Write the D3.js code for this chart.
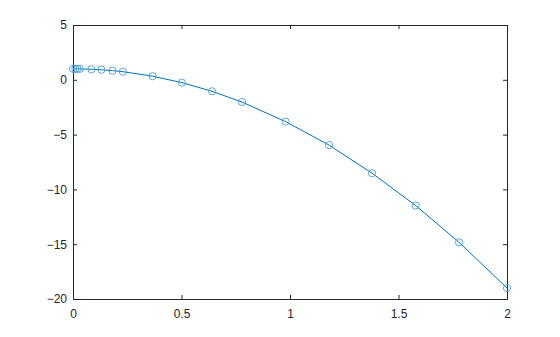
<!DOCTYPE html>
<html><head><meta charset="utf-8">
<script src="https://cdn.jsdelivr.net/npm/d3@7"></script>
<style>body{margin:0;background:#fff}svg{display:block}text{font-family:"Liberation Sans",Arial,Helvetica,sans-serif;font-size:12px;fill:#262626}</style>
</head><body>
<script>
const xValues = [0, 0.011, 0.020, 0.031, 0.085, 0.131, 0.182, 0.230, 0.367, 0.502, 0.641, 0.779, 0.980, 1.180, 1.378, 1.579, 1.779, 2.0];
const yValues = [1.0, 1.0, 1.0, 0.995, 0.96, 0.915, 0.835, 0.74, 0.33, -0.26, -1.05, -2.03, -3.82, -5.96, -8.52, -11.47, -14.83, -19.0];
const xTicks = [0, 0.5, 1, 1.5, 2];
const yTicks = [5, 0, -5, -10, -15, -20];

const W = 560, H = 337;
const m = {left: 73, right: 53, top: 25, bottom: 38};
const svg = d3.select("body").append("svg").attr("width", W).attr("height", H);
const x = d3.scaleLinear().domain([0, 2]).range([m.left, W - m.right]);
const y = d3.scaleLinear().domain([-20, 5]).range([H - m.bottom, m.top]);
const axisColor = "#262626";
const tl = 4;

function style(g){
  g.select(".domain").attr("stroke", axisColor).attr("stroke-width", 1);
  g.selectAll(".tick line").attr("stroke", axisColor);
  g.selectAll(".tick text").attr("fill", axisColor).style("font-size", "12px")
    .style("font-family", '"Liberation Sans",Arial,sans-serif');
}
svg.append("g").attr("transform", `translate(0,${H - m.bottom})`)
  .call(d3.axisBottom(x).tickValues(xTicks).tickSizeInner(-tl).tickSizeOuter(0).tickPadding(10).tickFormat(d3.format("")))
  .call(style);
svg.append("g").attr("transform", `translate(0,${m.top})`)
  .call(d3.axisTop(x).tickValues(xTicks).tickSizeInner(-tl).tickSizeOuter(0).tickFormat(""))
  .call(style);
svg.append("g").attr("transform", `translate(${m.left},0)`)
  .call(d3.axisLeft(y).tickValues(yTicks).tickSizeInner(-tl).tickSizeOuter(0).tickPadding(6).tickFormat(d3.format("")))
  .call(style);
svg.append("g").attr("transform", `translate(${W - m.right},0)`)
  .call(d3.axisRight(y).tickValues(yTicks).tickSizeInner(-tl).tickSizeOuter(0).tickFormat(""))
  .call(style);

const data = xValues.map((v, i) => [v, yValues[i]]);
svg.append("path").datum(data)
  .attr("fill", "none").attr("stroke", "#0072BD").attr("stroke-width", 1)
  .attr("d", d3.line().x(d => x(d[0])).y(d => y(d[1])));
svg.append("g").selectAll("circle").data(data).join("circle")
  .attr("cx", d => x(d[0])).attr("cy", d => y(d[1])).attr("r", 3.6)
  .attr("fill", "none").attr("stroke", "#4D9BD6").attr("stroke-width", 0.9);
</script>
</body></html>
